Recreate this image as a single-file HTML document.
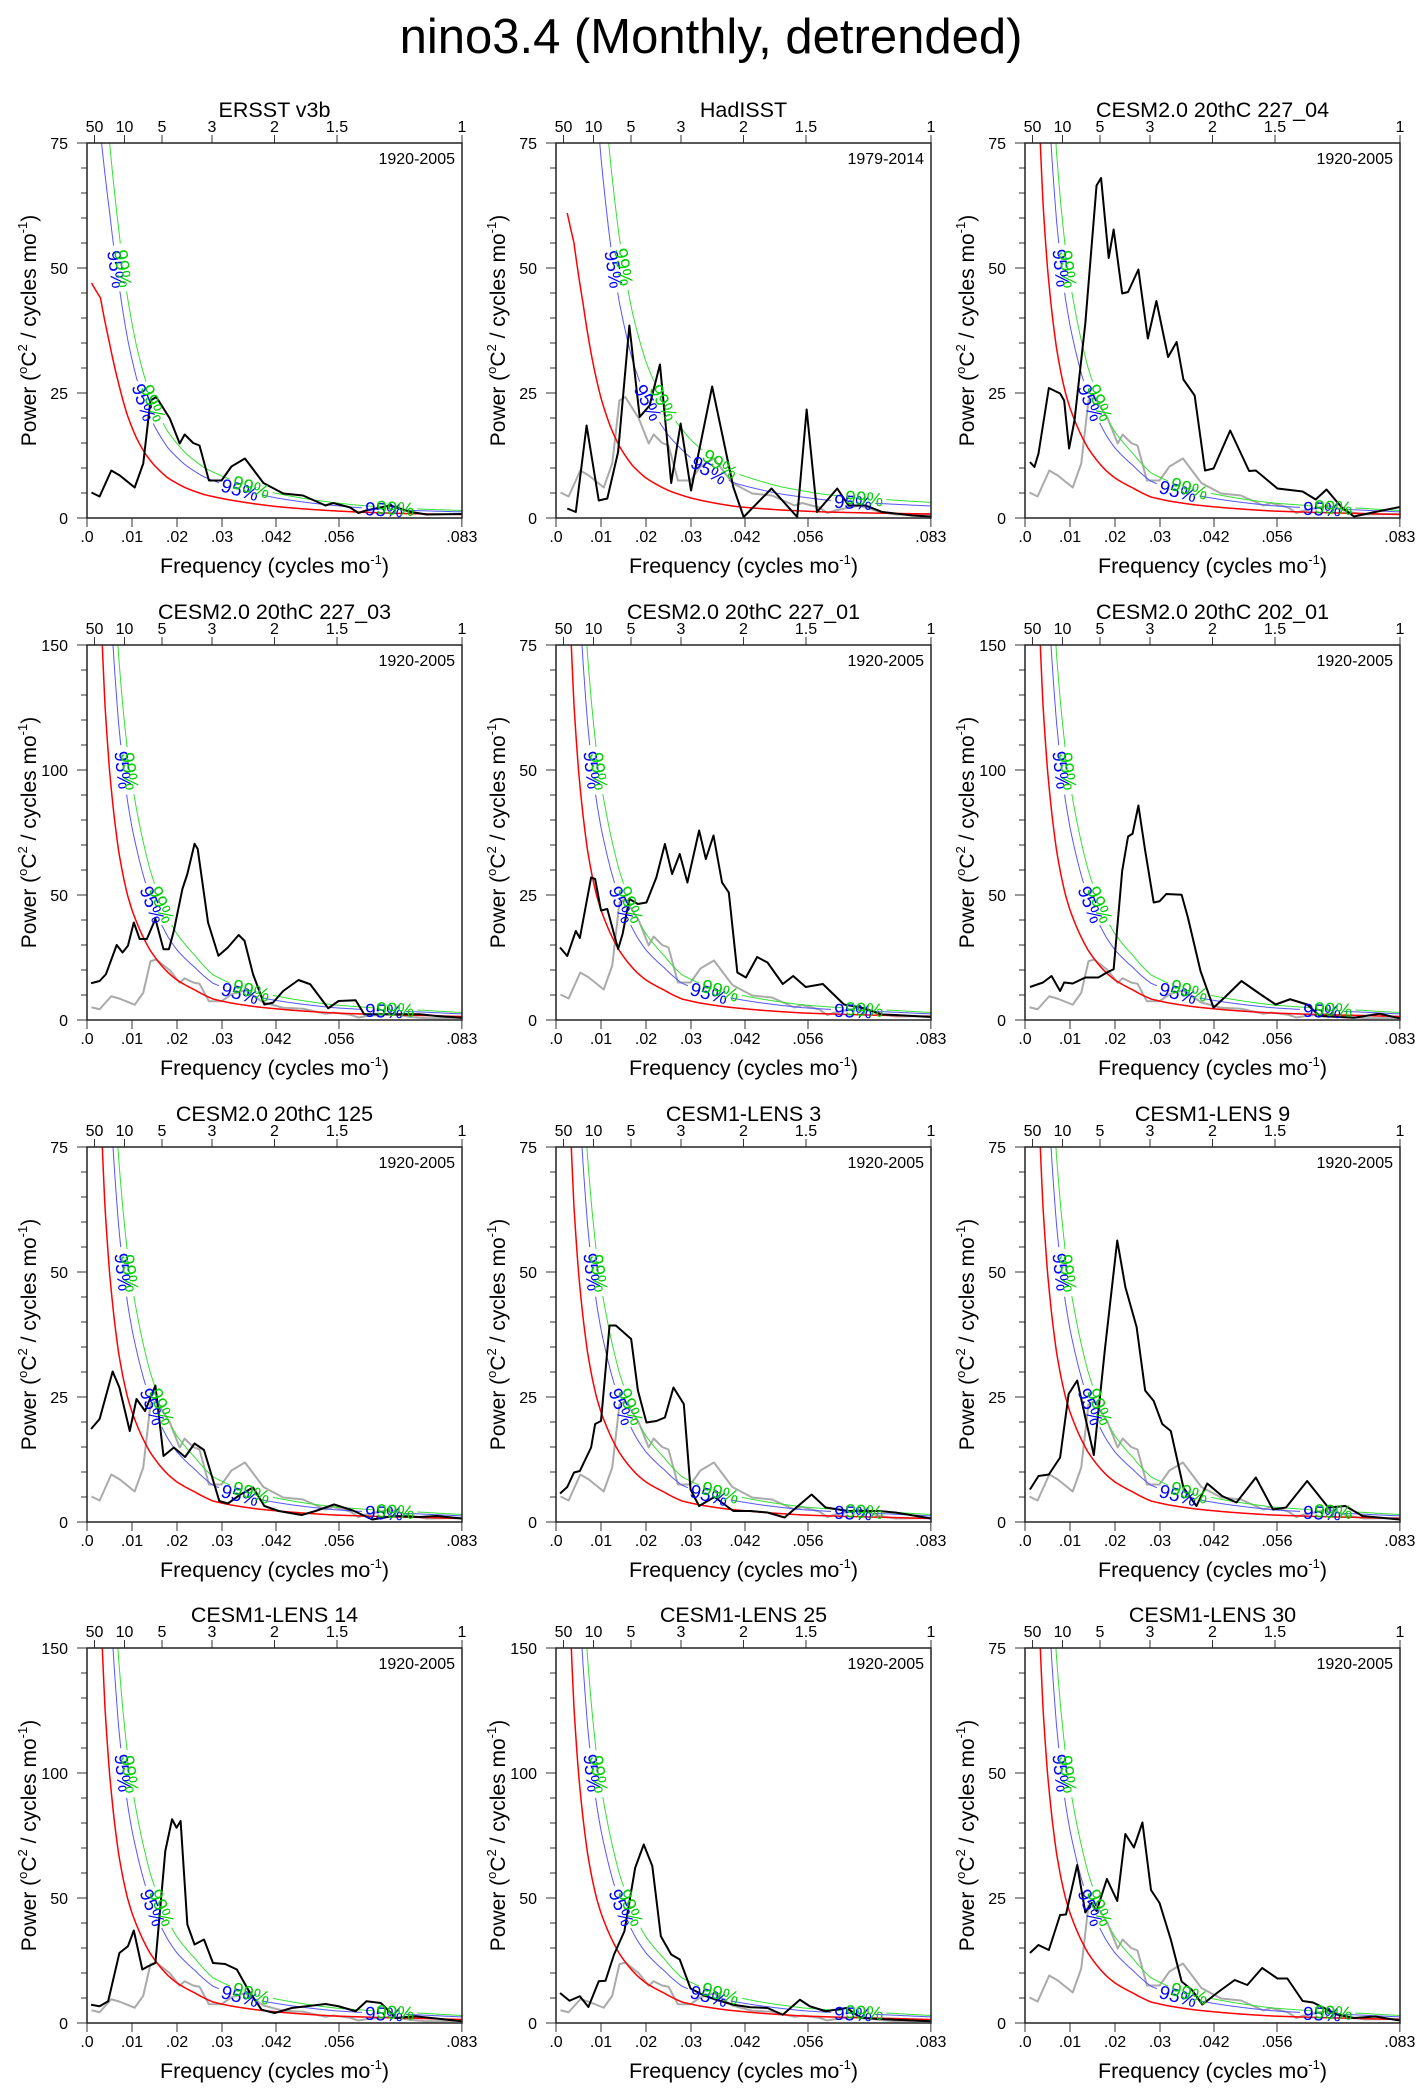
<!DOCTYPE html>
<html><head><meta charset="utf-8"><title>nino3.4 (Monthly, detrended)</title>
<style>
html,body{margin:0;padding:0;background:#fff;}
svg{display:block;font-family:"Liberation Sans",Arial,sans-serif;}
</style></head>
<body>
<svg id="fig" width="1421" height="2094" viewBox="0 0 1421 2094" xmlns="http://www.w3.org/2000/svg">
<text x="711" y="53" text-anchor="middle" font-size="49">nino3.4 (Monthly, detrended)</text>
</svg>
<script>
// ---------- data (frequency in 1e-3 cycles/mo, power) ----------
const panelTitles = ["ERSST v3b","HadISST","CESM2.0 20thC 227_04","CESM2.0 20thC 227_03","CESM2.0 20thC 227_01","CESM2.0 20thC 202_01","CESM2.0 20thC 125","CESM1-LENS 3","CESM1-LENS 9","CESM1-LENS 14","CESM1-LENS 25","CESM1-LENS 30"];
const periodLabels = ["1920-2005","1979-2014","1920-2005","1920-2005","1920-2005","1920-2005","1920-2005","1920-2005","1920-2005","1920-2005","1920-2005","1920-2005"];
const yMaxes = [75,75,75,150,75,150,75,75,75,150,150,75];
const k95 = [1.75,3.0,1.75,1.75,1.75,1.75,1.75,1.75,1.75,1.75,1.75,1.75];
const k99 = [2.15,3.9,2.15,2.15,2.15,2.15,2.15,2.15,2.15,2.15,2.15,2.15];
const xTickValues = [0,10,20,30,42,56,83.3];
const xTickLabels = [".0",".01",".02",".03",".042",".056",".083"];
const periodTicks = [50,10,5,3,2,1.5,1];
const periodTickLabels = ["50","10","5","3","2","1.5","1"];

const spec1 = [[1,5.1],[2.8,4.3],[5.4,9.5],[7.3,8.5],[10.6,6.1],[12.5,10.9],[14.1,23.5],[15.4,24.2],[18.4,19.9],[20.6,14.9],[21.7,16.7],[23.6,15],[25,14.5],[27.1,7.5],[29.9,7.5],[32.1,10.3],[35.1,11.9],[39.2,7],[43.6,4.9],[48,4.5],[53,2.5],[54.7,3],[58.5,2.1],[60.3,1],[62,1.5],[67.4,2.5],[72,1.2],[75.5,0.7],[83.3,0.8]];
const spec2 = [[2.5,1.9],[4.4,1.2],[6.8,18.5],[9.5,3.5],[11.4,3.9],[13.8,13.2],[16.3,38.5],[18.6,20.2],[20.8,22.5],[23.1,30.7],[25.6,7],[27.7,18.9],[30,5.5],[34.7,26.3],[39.4,6.2],[41.7,0.2],[47.9,5.9],[53.6,0.2],[55.7,21.7],[58,1.2],[62.5,5.9],[65,2.5],[68.8,2.5],[72.5,1.2],[79.2,0.5],[83.3,0.3]];
const spec3 = [[1.1,11.2],[2.1,10.2],[3,12.9],[5.3,26],[7.8,24.9],[8.7,23.5],[9.8,13.9],[11,19.5],[13.4,38.9],[15.9,66.5],[16.9,68],[18.6,52],[19.7,57.7],[21.6,44.9],[22.9,45.2],[25.2,49.7],[27.3,35.9],[29.2,43.4],[31.8,32.2],[33.7,35.2],[35.2,27.7],[37.7,24.5],[40,9.5],[41.9,9.9],[45.6,17.5],[49.8,9.4],[51.3,9.5],[56.1,5.9],[61.7,5.3],[64.6,3.7],[67,5.7],[70.3,2.2],[73.1,0.3],[77.8,1.2],[83.3,2.2]];
const spec4 = [[0.9,14.7],[2.8,15.6],[4.2,18.3],[6.6,30],[7.9,27],[9.1,29.7],[10.4,39],[11.7,32.4],[13.3,32.4],[15.2,40.4],[17,28.3],[18.2,28.3],[19.3,35.7],[21.2,52.4],[22.3,58.4],[23.9,70.5],[24.6,68.4],[26.9,39],[29.2,25.7],[31.3,29],[33.7,34],[35,31.7],[36.9,18.3],[39.4,6.2],[41.3,6.9],[43.6,11.6],[47,16],[49.6,14.3],[53.6,4.7],[55.9,7.6],[59.7,7.9],[61.6,2.3],[66.3,2.3],[73.9,2.3],[77.7,1.6],[83.3,0.9]];
const spec5 = [[0.9,14.5],[2.5,12.8],[4.4,17.8],[5.3,16.4],[7.8,28.5],[8.7,28.2],[10,21.9],[11.4,22.2],[13.8,14.2],[14.8,17.2],[16.3,24.2],[18.2,23.2],[20.1,23.5],[22.3,28.5],[24.2,35.2],[25.8,29.2],[27.5,33.2],[29.2,27.5],[31.8,37.9],[33.3,32.2],[35,36.9],[36.9,27.5],[38.4,25.5],[40.3,9.5],[42.2,8.5],[44.7,12.6],[47,11.5],[50.4,7.2],[52.7,8.8],[55.5,6.6],[59.3,7.2],[64,3.1],[67.8,2.5],[72.5,1.1],[75.4,1],[83.3,0.6]];
const spec6 = [[1.1,13.2],[4,15],[5.9,17.6],[7.8,11.6],[8.7,15],[10.6,14.6],[13.4,17],[16.3,17],[18.2,19],[19.7,20.3],[21.6,59.7],[22.9,73.4],[23.9,74.5],[25.2,85.8],[26.7,67.8],[28.6,47],[29.9,47.5],[31.4,50.4],[34.8,50.1],[36.2,41],[39,19.6],[41.9,4.9],[44.7,9.6],[48.1,15.6],[52.3,10.3],[55.7,6.2],[58.9,8.3],[62.7,6.2],[65.5,1.6],[73.1,0.9],[78.8,2.5],[83.3,0.7]];
const spec7 = [[0.9,18.6],[2.8,20.6],[5.7,30.1],[7.2,26.9],[9.5,18.2],[11,24.6],[12.9,22.2],[15.2,27.3],[17,13.2],[19.3,14.9],[21.8,13],[23.9,15.7],[26,14.4],[29.4,4.2],[31.3,3.7],[34.1,5.5],[36.9,6.9],[39.4,3.2],[42.6,2.2],[47.7,1.4],[50.8,2.2],[54.9,3.5],[59.1,2.3],[63.4,0.5],[68.2,1.2],[73.9,1],[77.7,1.2],[83.3,0.7]];
const spec8 = [[0.9,5.7],[2.5,7],[4,9.9],[5.3,10.2],[7.8,14.9],[8.7,19.6],[10,20.2],[11.9,39.3],[13.3,39.3],[16.7,36.6],[18.2,26.3],[20.1,19.9],[22.3,20.2],[24.2,20.9],[26.1,26.9],[28.4,23.6],[29.9,6.5],[31.8,3.2],[35.2,5],[39.4,2.2],[43.2,2.2],[47,1.9],[50.8,0.9],[56.8,5.5],[59.9,2.9],[65,2.2],[71.6,2.2],[75.4,1.9],[80.1,1.2],[83.3,0.7]];
const spec9 = [[1.1,6.5],[3,9.2],[5.3,9.5],[7.8,12.9],[9.7,25.6],[11.6,28.3],[13.4,20.9],[15.3,13.4],[17.8,34.9],[20.5,56.3],[22.3,47],[24.8,39],[26.7,26.3],[28.6,24.2],[30.5,19.6],[32.4,18.2],[35.2,6.9],[38.1,3.2],[40.5,7.7],[43.8,5.2],[47,3.9],[51.3,8.9],[55.1,2.5],[58,2.9],[62.7,8.2],[67.4,2.9],[71.2,3.2],[75,1.2],[83.3,0.5]];
const spec10 = [[0.9,7.3],[2.8,6.7],[4.7,8.7],[7.2,28],[9.1,30.7],[10.4,37],[12.3,21.4],[13.6,22.7],[15.2,24],[17.4,68.8],[18.9,81.5],[19.9,78.1],[20.8,80.8],[22.3,39.4],[23.9,31.4],[26,33.4],[28,24],[30.7,23.6],[33.3,21.4],[36,12.7],[38.8,5.3],[41.7,4],[45.5,6],[53,7.6],[55.9,6.7],[59.7,4.7],[62.1,8.7],[65.3,8],[68.6,2],[72.9,2.7],[83.3,0.7]];
const spec11 = [[0.9,12],[3,8.9],[5.3,10.7],[7.2,6.4],[9.5,16.7],[11,16.9],[12.9,27.4],[15.2,36.7],[17.6,62.1],[19.5,71.4],[21.4,62.8],[23.3,34.7],[25.6,27.4],[27.5,25.4],[29.9,13.8],[32.8,11.1],[35.6,9.3],[39.4,7.3],[43.2,6.3],[47,6],[50.4,3.3],[54.2,9.3],[56.4,6.7],[59.9,4.7],[64.6,6],[67.8,2],[75.4,1.3],[83.3,0.7]];
const spec12 = [[1.1,14],[3,15.6],[5.3,14.6],[7.8,21.6],[9.1,21.7],[11.6,31.6],[13.4,22.1],[14.8,24],[15.9,22.4],[18.2,28.8],[20.5,24.4],[22.3,37.8],[24.2,35.1],[26.1,40.1],[28,26.6],[29.9,24],[32.4,16.7],[34.8,8.3],[37.1,6.6],[39.4,3.7],[42.8,6.1],[46.6,8.6],[49.4,7.6],[52.7,11],[56.1,8.9],[58.3,8.9],[61.7,4.4],[64,4.1],[66.5,3],[69.3,1.7],[73.1,1],[77.8,1.3],[83.3,0.5]];
const spectra = [spec1,spec2,spec3,spec4,spec5,spec6,spec7,spec8,spec9,spec10,spec11,spec12];
const obsGray = spec1;

const redObs = [[1,47],[3,44],[5,35],[7,27],[9,20.5],[11,16],[13,12.8],[15,10.5],[18,8],[22,6],[26,4.7],[30,3.9],[36,3],[42,2.3],[50,1.7],[60,1.2],[70,0.9],[83.3,0.7]];
const redHad = [[2.5,61],[4,55],[6,43],[8,32],[10,24],[12,18.5],[14,14.5],[17,10.5],[20,8],[25,5.5],[30,4],[40,2.3],[50,1.6],[60,1.2],[70,1],[83.3,0.8]];
const redModel75 = [[3.4,75],[4,63],[5,50],[6,41],[7,34],[8,29],[9,25],[10,22],[12,17.5],[14,14],[16,11.5],[18,9.5],[20,8],[24,6],[28,4.2],[32,3.4],[38,2.6],[45,2],[55,1.4],[65,1.1],[75,0.9],[83.3,0.7]];
const redModel150 = [[3.4,150],[4,126],[5,100],[6,82],[7,68],[8,58],[9,50],[10,44],[12,35],[14,28],[16,23],[18,19],[20,16],[24,12],[28,8.4],[32,6.8],[38,5.2],[45,4],[55,2.8],[65,2.2],[75,1.8],[83.3,1.4]];
const redCurves = [redObs,redHad,redModel75,redModel150,redModel75,redModel150,redModel75,redModel75,redModel75,redModel150,redModel150,redModel75];

// ---------- layout ----------
const colLeft = [87,556,1025];
const rowTop = [143,645,1147,1648];
const W = 375, H = 375, FMAX = 83.333;
const NS = "http://www.w3.org/2000/svg";
const svg = document.getElementById('fig');

function mk(tag, attrs, parent){
  const e = document.createElementNS(NS, tag);
  for (const k in attrs) e.setAttribute(k, attrs[k]);
  (parent||svg).appendChild(e);
  return e;
}
function logInterp(pairs, f){
  if (f < pairs[0][0] || f > pairs[pairs.length-1][0]) return null;
  for (let i=0;i<pairs.length-1;i++){
    const a=pairs[i], b=pairs[i+1];
    if (f>=a[0] && f<=b[0]){
      const t=(f-a[0])/(b[0]-a[0]);
      return Math.exp(Math.log(a[1])*(1-t)+Math.log(b[1])*t);
    }
  }
  return null;
}

spectra.forEach((spec, p) => {
  const L = colLeft[p%3], T = rowTop[Math.floor(p/3)], B = T+H, R = L+W;
  const ymax = yMaxes[p];
  const xs = f => L + f/FMAX*W;
  const ys = v => B - v/ymax*H;
  const g = mk('g', {});
  
  

  const cp = mk('clipPath', {id:'clip'+p}, g);
  mk('rect', {x:L, y:T, width:W, height:H}, cp);

  const title = mk('text', {x:L+W/2, y:T-26, 'text-anchor':'middle', 'font-size':21.5}, g);
  title.textContent = panelTitles[p];
  
  

  const per = mk('text', {x:R-7, y:T+21, 'text-anchor':'end', 'font-size':16}, g);
  per.textContent = periodLabels[p];
  
  

  // y ticks
  for (let v=0; v<=ymax+1e-9; v+=ymax/15){
    const major = Math.abs((v/(ymax/3)) - Math.round(v/(ymax/3)))<1e-6;
    const t = mk('line', {x1:L-(major?10:6), x2:L, y1:ys(v), y2:ys(v), stroke:'#333', 'stroke-width':1}, g);
    
    
    if (major){
      const lb = mk('text', {x:L-19, y:ys(v)+6, 'text-anchor':'end', 'font-size':16}, g);
      lb.textContent = Math.round(v);
      
      
    }
  }
  // bottom ticks
  xTickValues.forEach((f,i) => {
    const t = mk('line', {x1:xs(f), x2:xs(f), y1:B, y2:B+9, stroke:'#333', 'stroke-width':1}, g);
    
    
    const lb = mk('text', {x:xs(f), y:B+24, 'text-anchor':'middle', 'font-size':16}, g);
    lb.textContent = xTickLabels[i];
    
    
  });
  // top period ticks
  periodTicks.forEach((pr,i) => {
    const f = 1000/(12*pr);
    const t = mk('line', {x1:xs(f), x2:xs(f), y1:T-8, y2:T, stroke:'#333', 'stroke-width':1}, g);
    
    
    const lb = mk('text', {x:xs(f), y:T-11, 'text-anchor':'middle', 'font-size':16}, g);
    lb.textContent = periodTickLabels[i];
    
    
  });

  // axis titles
  const xt = mk('text', {x:L+W/2, y:B+55, 'text-anchor':'middle', 'font-size':21.5}, g);
  xt.innerHTML = 'Frequency (cycles mo<tspan dy="-9" font-size="13">-1</tspan><tspan dy="9">)</tspan>';
  
  
  const yt = mk('text', {x:0, y:0, 'text-anchor':'middle', 'font-size':21, transform:`translate(${L-51},${T+H/2}) rotate(-90)`}, g);
  yt.innerHTML = 'Power (<tspan dy="-9" font-size="13">o</tspan><tspan dy="9">C</tspan><tspan dy="-9" font-size="13">2</tspan><tspan dy="9"> / cycles mo</tspan><tspan dy="-9" font-size="13">-1</tspan><tspan dy="9">)</tspan>';
  
  

  const plot = mk('g', {'clip-path':`url(#clip${p})`}, g);

  // gray obs
  if (p>0){
    const gp = mk('polyline', {points: obsGray.map(d=>xs(d[0])+','+ys(d[1])).join(' '), fill:'none', stroke:'#aaaaaa', 'stroke-width':2, 'stroke-linejoin':'round'}, plot);
    
    
  }

  // red noise + significance curves
  const red = redCurves[p];
  const f0 = red[0][0], f1 = red[red.length-1][0];
  function curvePts(mult){
    const pts=[];
    for (let f=f0; f<=f1+1e-9; f+=0.1){
      const v = logInterp(red, Math.min(f,f1));
      if (v==null) continue;
      pts.push([xs(f), ys(v*mult), v*mult, f]);
    }
    return pts;
  }
  const rp = curvePts(1);
  const rl = mk('polyline', {points: rp.map(q=>q[0]+','+q[1]).join(' '), fill:'none', stroke:'#ff0000', 'stroke-width':1.5}, plot);
  
  

  function sigCurve(mult, color, textColor, label, fpos3, fpos4, name){
    const pts = curvePts(mult);
    const cum=[0];
    for (let i=1;i<pts.length;i++) cum.push(cum[i-1]+Math.hypot(pts[i][0]-pts[i-1][0], pts[i][1]-pts[i-1][1]));
    const idx=[];
    const findV = tv => { for (let i=0;i<pts.length;i++) if (pts[i][2]<=tv) return i; return -1; };
    const findF = tf => { for (let i=0;i<pts.length;i++) if (pts[i][3]>=tf) return i; return -1; };
    [findV(0.67*ymax), findV(0.31*ymax), findF(fpos3), findF(fpos4)].forEach(i=>{ if(i>0) idx.push(i); });
    const gap = 22;
    let segs=[], cur=[];
    for (let i=0;i<pts.length;i++){
      const inGap = idx.some(k => Math.abs(cum[i]-cum[k])<gap);
      if (inGap){ if(cur.length>1) segs.push(cur); cur=[]; }
      else cur.push(pts[i]);
    }
    if (cur.length>1) segs.push(cur);
    const pth = mk('path', {d: segs.map(s=>'M'+s.map(q=>q[0].toFixed(1)+','+q[1].toFixed(1)).join('L')).join(''), fill:'none', stroke:color, 'stroke-width':1}, plot);
    
    
    idx.forEach(k=>{
      const a = pts[Math.max(0,k-3)], b = pts[Math.min(pts.length-1,k+3)];
      const ang = Math.atan2(b[1]-a[1], b[0]-a[0])*180/Math.PI;
      const t = mk('text', {x:0, y:0, 'text-anchor':'middle', 'font-size':19, fill:textColor, transform:`translate(${pts[k][0].toFixed(1)},${pts[k][1].toFixed(1)}) rotate(${ang.toFixed(1)}) translate(0,7)`}, g);
      t.textContent = label;
      
      
    });
  }
  sigCurve(k95[p], '#5555ff', '#0000ff', '95%', 34, 66, 'significance-95-curve');
  sigCurve(k99[p], '#33e033', '#00d000', '99%', 36.5, 68.5, 'significance-99-curve');

  // black spectrum
  const bl = mk('polyline', {points: spec.map(d=>xs(d[0])+','+ys(d[1])).join(' '), fill:'none', stroke:'#000', 'stroke-width':2, 'stroke-linejoin':'round'}, plot);
  
  

  // frame
  const fr = mk('rect', {x:L, y:T, width:W, height:H, fill:'none', stroke:'#222', 'stroke-width':1.5}, g);
  
  
});
</script>
</body></html>
